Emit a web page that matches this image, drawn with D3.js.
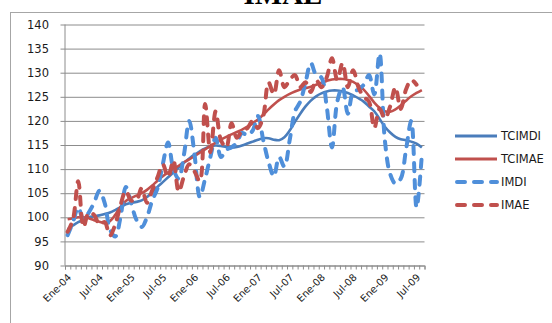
<!DOCTYPE html>
<html>
<head>
<meta charset="utf-8">
<script src="https://cdn.jsdelivr.net/npm/d3@7/dist/d3.min.js"></script>
<style>
  html, body { margin: 0; padding: 0; background: #ffffff; }
  svg { display: block; }
</style>
</head>
<body>
<div id="chart"></div>
<script>
// ---------- data ----------
const monthNames = ["Ene","Feb","Mar","Abr","May","Jun","Jul","Ago","Sep","Oct","Nov","Dic"];
const years = ["04","05","06","07","08","09"];
const nMonths = 68; // Ene-04 .. Ago-09
const categories = [];
for (let k = 0; k < nMonths; k++) {
  categories.push(monthNames[k % 12] + "-" + years[Math.floor(k / 12)]);
}
const tickLabels = ["Ene-04","Jul-04","Ene-05","Jul-05","Ene-06","Jul-06","Ene-07","Jul-07","Ene-08","Jul-08","Ene-09","Jul-09"];
const yTicks = [90,95,100,105,110,115,120,125,130,135,140];

const seriesNames = ["TCIMDI","TCIMAE","IMDI","IMAE"];

const TCIMDI = [97.5,98.3,99,99.5,100,100.2,100.4,100.7,101,101.5,102.1,102.7,
  103,103.2,103.5,104.2,105.2,106.3,107.3,108.3,109.3,110.3,111.3,112.2,
  113,113.7,114.3,114.7,114.9,114.8,114.6,114.5,114.6,114.9,115.3,115.7,
  116.1,116.4,116.4,116.1,116,116.6,118,119.8,121.5,123,124.2,125.1,
  125.7,126.1,126.3,126.3,126.1,125.8,125.3,124.7,124,123,122,120.4,
  118.8,117.6,116.7,116.2,116,115.7,115.3,114.5];

const TCIMAE = [99.6,99.8,100,100,99.8,99.4,99.1,98.8,99.2,100.5,102.2,103.4,
  104,104.5,105,105.7,106.6,107.6,108.5,109.3,110,110.7,111.4,112,
  112.7,113.4,114.1,114.8,115.5,116.1,116.7,117.2,117.7,118.2,118.8,119.5,
  120.3,121.3,122.4,123.4,124.3,125,125.6,126.1,126.5,126.8,127.1,127.5,
  127.9,128.3,128.6,128.7,128.7,128.5,128.1,127.4,126.5,125.2,123.8,122.7,
  122,121.9,122.4,123.2,124.2,125.1,125.8,126.4];

const IMDI = [96.3,99,102,99.5,101,103,105.5,103,97.5,96,100,106.3,
  103,99.5,98,100,103.5,106,111,115.5,110,108,113,120,
  113,104.2,108,112.5,116.5,112.5,114,114.5,115.5,117.5,117,118,
  121,116,111.5,108.5,112.5,110.5,116,122,124,128,132,129.5,
  129,123,114.5,124,127,121.5,126,126.5,127.5,129.5,125.5,134,
  116,109,107,108,114,120,102,113];

const IMAE = [97,99.5,107.5,98,101,100.5,98.5,99,96.2,98.5,102.5,105.5,
  103.5,103.5,106,103,105.6,108.3,111,108.3,111.8,105.3,108.5,111,
  109.5,107.5,123.5,113.5,122,116,114.5,119.5,116.5,118,118.5,120,
  118.5,121,128,125.5,130.5,127,128.5,129.5,127,128,126,128.5,
  127,129,133,128.5,132,127,130.5,127,125,124,118.5,122.5,
  120.5,123,127,122.5,126.5,128.5,127.5];

// ---------- chart ----------
(function () {
const W = 552, H = 323;
const pLeft = 65, pRight = 424.5, pTop = 24.5, pBottom = 265.5;

const svg = d3.select("#chart").append("svg")
  .attr("width", W).attr("height", H)
  .style("font-family", "'DejaVu Sans', sans-serif");

svg.append("rect").attr("width", W).attr("height", H).attr("fill", "#fff");

// chart area border
svg.append("rect")
  .attr("x", 10.5).attr("y", 12.5)
  .attr("width", 700).attr("height", 500)
  .attr("fill", "none").attr("stroke", "#a6a6a6").attr("stroke-width", 1);

// title (mostly cut off at top)
svg.append("text")
  .attr("x", 283).attr("y", 4)
  .attr("text-anchor", "middle")
  .style("font-family", "'Liberation Serif', serif")
  .style("font-weight", "bold")
  .style("font-size", "29px")
  .attr("fill", "#000")
  .text("IMAE");

const x = d3.scaleBand().domain(categories).range([pLeft, pRight]).padding(0);
const xIdx = d3.scaleLinear().domain([0, nMonths]).range([pLeft, pRight]);
const y = d3.scaleLinear().domain([90, 140]).range([pBottom, pTop]);

// gridlines
const grid = svg.append("g")
  .attr("transform", `translate(${pLeft - 4.5},0)`)
  .call(d3.axisLeft(y).tickValues(yTicks).tickSize(-(pRight - pLeft + 4.5)).tickFormat(""));
grid.select(".domain").remove();
grid.selectAll("line").attr("stroke", "#8c8c8c").attr("stroke-width", 1);

// y axis line + labels
svg.append("line")
  .attr("x1", pLeft).attr("x2", pLeft).attr("y1", pTop).attr("y2", pBottom)
  .attr("stroke", "#8c8c8c");
const yAx = svg.append("g")
  .attr("transform", `translate(${pLeft},0)`)
  .call(d3.axisLeft(y).tickValues(yTicks).tickSize(0).tickPadding(16));
yAx.select(".domain").remove();
yAx.selectAll("text")
  .style("font-size", "11.5px")
  .style("font-family", "'DejaVu Sans', sans-serif")
  .attr("fill", "#1a1a1a");

// x minor ticks at category boundaries
const xTicks = svg.append("g")
  .attr("transform", `translate(0,${pBottom})`)
  .call(d3.axisBottom(xIdx).tickValues(d3.range(nMonths + 1)).tickSize(4).tickFormat(""));
xTicks.select(".domain").attr("stroke", "#8c8c8c");
xTicks.selectAll("line").attr("stroke", "#8c8c8c");

// x labels
const xLab = svg.append("g")
  .attr("transform", `translate(0,${pBottom})`)
  .call(d3.axisBottom(x).tickValues(tickLabels).tickSize(0).tickPadding(0));
xLab.select(".domain").remove();
xLab.selectAll("text")
  .style("font-size", "10px")
  .style("font-family", "'DejaVu Sans', sans-serif")
  .attr("fill", "#1a1a1a")
  .attr("text-anchor", "end")
  .attr("dy", "0.35em")
  .attr("transform", "translate(2,10) rotate(-45)");

// lines
const line = d3.line()
  .x((d, i) => x(categories[i]) + x.bandwidth() / 2)
  .y(d => y(d))
  .curve(d3.curveCatmullRom.alpha(0.5));

const styles = {
  TCIMDI: { color: "#4a7dbb", width: 2.6, dash: null },
  TCIMAE: { color: "#c0504d", width: 2.6, dash: null },
  IMDI:   { color: "#4f8fda", width: 4, dash: "8,9" },
  IMAE:   { color: "#c0504d", width: 4, dash: "8,9" }
};
const seriesData = { TCIMDI, TCIMAE, IMDI, IMAE };

seriesNames.forEach(name => {
  const s = styles[name];
  const p = svg.append("path")
    .datum(seriesData[name])
    .attr("d", line)
    .attr("fill", "none")
    .attr("stroke", s.color)
    .attr("stroke-width", s.width)
    .attr("stroke-linecap", s.dash ? "round" : "butt")
    .attr("stroke-linejoin", "round");
  if (s.dash) p.attr("stroke-dasharray", s.dash);
});

// legend
const legY = [136, 159, 182, 205];
seriesNames.forEach((name, k) => {
  const s = styles[name];
  const g = svg.append("g");
  const l = g.append("line")
    .attr("x1", s.dash ? 457 : 455).attr("x2", 497)
    .attr("y1", legY[k]).attr("y2", legY[k])
    .attr("stroke", s.color)
    .attr("stroke-width", s.dash ? 4 : 3)
    .attr("stroke-linecap", s.dash ? "round" : "butt");
  if (s.dash) l.attr("stroke-dasharray", s.dash);
  g.append("text")
    .attr("x", 501).attr("y", legY[k])
    .attr("dy", "0.36em")
    .style("font-size", "11.5px")
    .style("font-family", "'DejaVu Sans', sans-serif")
    .attr("fill", "#1a1a1a")
    .text(name);
});
})();
</script>
</body>
</html>
